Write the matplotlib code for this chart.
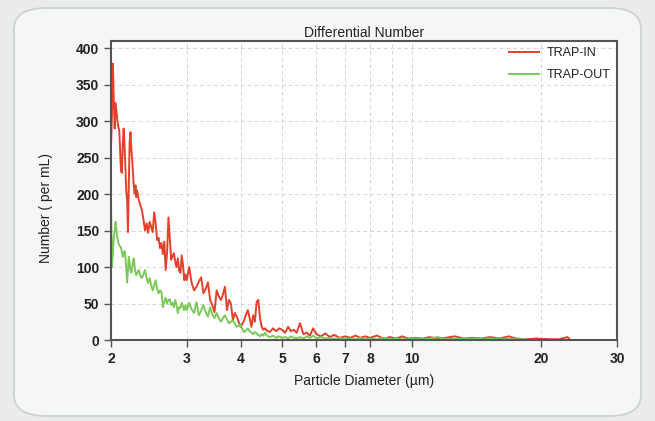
import matplotlib
matplotlib.use("Agg")
import matplotlib.pyplot as plt
from matplotlib.patches import FancyBboxPatch
from matplotlib.ticker import FixedLocator, FixedFormatter, NullFormatter

# particle diameter (um) and counts
trap_in_d = [2.00, 2.01, 2.02, 2.03, 2.04, 2.05, 2.06, 2.07, 2.08, 2.09, 2.10, 2.11, 2.12, 2.13, 2.14,
             2.15, 2.16, 2.17, 2.18, 2.19, 2.20, 2.21, 2.22, 2.23, 2.24, 2.25, 2.26, 2.27, 2.28, 2.29, 2.30,
             2.32, 2.34, 2.36, 2.38, 2.40, 2.42, 2.44, 2.46, 2.48, 2.50, 2.52, 2.54, 2.56, 2.58, 2.60,
             2.62, 2.64, 2.66, 2.68, 2.70, 2.72, 2.74, 2.76, 2.78, 2.80, 2.82, 2.84, 2.86, 2.88, 2.90,
             2.92, 2.94, 2.96, 2.98, 3.00,
             3.04, 3.08, 3.12, 3.16, 3.20, 3.24, 3.28, 3.32, 3.36, 3.40, 3.44, 3.48, 3.52, 3.56, 3.60,
             3.64, 3.68, 3.72, 3.76, 3.80, 3.84, 3.88, 3.92, 3.96, 4.00, 4.04, 4.08, 4.12, 4.16, 4.20,
             4.24, 4.28, 4.32, 4.36, 4.40, 4.44, 4.48, 4.52, 4.56, 4.60,
             4.68, 4.76, 4.84, 4.92, 5.00, 5.08, 5.16, 5.24, 5.32, 5.40,
             5.50, 5.60, 5.70, 5.80, 5.90, 6.00, 6.15, 6.30, 6.45, 6.60, 6.80, 7.00, 7.20, 7.40, 7.60,
             7.80, 8.00, 8.30, 8.60, 8.90, 9.20, 9.50, 9.80, 10.2, 10.6, 11.0, 11.5, 12.0, 12.6, 13.2,
             13.8, 14.5, 15.2, 16.0, 16.8, 17.5, 18.3, 19.5, 21.0, 22.0, 23.0, 23.3]
trap_in = [264, 310, 379, 330, 290, 325, 312, 300, 292, 288, 260, 232, 229, 270, 290,
           268, 238, 205, 192, 148, 215, 272, 285, 262, 247, 228, 210, 201, 212, 196, 205,
           192, 185, 178, 165, 150, 160, 147, 162, 155, 148, 175, 160, 137, 140, 126,
           133, 118, 135, 96, 120, 168, 140, 110, 115, 119, 108, 100, 112, 95, 92,
           116, 103, 82, 90, 82,
           100, 78, 68, 73, 80, 86, 64, 70, 79, 55, 48, 38, 68, 60, 55,
           62, 73, 41, 55, 50, 27, 37, 32, 25, 18, 22, 27, 35, 41, 30,
           18, 34, 25, 52, 55, 30, 18, 14, 16, 13,
           11, 16, 12, 16, 14, 10, 18, 12, 14, 10,
           23, 8, 10, 6, 16, 8, 5, 9, 4, 7, 3, 5, 3, 6, 3,
           5, 3, 6, 2, 4, 2, 5, 2, 3, 2, 4, 2, 3, 5, 2,
           3, 2, 4, 2, 5, 2, 1, 2, 1, 1, 4, 1]

trap_out_d = [2.00, 2.01, 2.02, 2.03, 2.04, 2.05, 2.06, 2.07, 2.08, 2.09, 2.10, 2.11, 2.12, 2.13, 2.14,
              2.15, 2.16, 2.17, 2.18, 2.19, 2.20, 2.21, 2.22, 2.23, 2.24, 2.25, 2.26, 2.27, 2.28, 2.29, 2.30,
              2.32, 2.34, 2.36, 2.38, 2.40, 2.42, 2.44, 2.46, 2.48, 2.50, 2.52, 2.54, 2.56, 2.58, 2.60,
              2.62, 2.64, 2.66, 2.68, 2.70, 2.72, 2.74, 2.76, 2.78, 2.80, 2.82, 2.84, 2.86, 2.88, 2.90,
              2.92, 2.94, 2.96, 2.98, 3.00,
              3.04, 3.08, 3.12, 3.16, 3.20, 3.24, 3.28, 3.32, 3.36, 3.40, 3.44, 3.48, 3.52, 3.56, 3.60,
              3.64, 3.68, 3.72, 3.76, 3.80, 3.84, 3.88, 3.92, 3.96, 4.00, 4.04, 4.08, 4.12, 4.16, 4.20,
              4.24, 4.28, 4.32, 4.36, 4.40, 4.44, 4.48, 4.52, 4.56, 4.60,
              4.68, 4.76, 4.84, 4.92, 5.00, 5.08, 5.16, 5.24, 5.32, 5.40,
              5.50, 5.60, 5.70, 5.80, 5.90, 6.00, 6.15, 6.30, 6.45, 6.60, 6.80, 7.00, 7.20, 7.40, 7.60,
              7.80, 8.00, 8.30, 8.60, 8.90, 9.20, 9.50, 9.80, 10.2, 10.6, 11.0, 11.5, 12.0, 12.6, 13.2,
              13.8, 14.5, 15.2, 16.0, 16.8, 17.5, 18.3]
trap_out = [192, 100, 118, 140, 150, 162, 150, 140, 133, 130, 128, 127, 120, 114, 116,
            122, 115, 96, 79, 95, 114, 104, 95, 92, 100, 108, 112, 100, 92, 89, 92,
            96, 88, 85, 90, 96, 85, 78, 85, 75, 68, 75, 82, 70, 64, 68,
            66, 45, 52, 58, 50, 55, 56, 48, 51, 45, 55, 48, 37, 45, 44,
            51, 46, 41, 48, 41,
            51, 42, 37, 52, 34, 40, 48, 38, 32, 45, 35, 30, 37, 30, 25,
            30, 34, 28, 23, 25, 27, 22, 18, 20, 21, 15, 11, 13, 16, 12,
            10, 8, 11, 9, 7, 5, 8, 6, 10, 6,
            4, 6, 3, 5, 3, 4, 2, 5, 3, 2,
            4, 2, 5, 3, 6, 2, 4, 2, 3, 1, 3, 1, 2, 1, 3,
            1, 2, 1, 3, 1, 2, 1, 1, 2, 1, 2, 4, 1, 2, 1,
            2, 1, 2, 1, 2, 1, 1]

x_ticks = [2, 3, 4, 5, 6, 7, 8, 10, 20, 30]

plt.rcParams['font.family'] = ['Liberation Sans', 'DejaVu Sans']

fig = plt.figure(figsize=(6.55, 4.21), dpi=100)
fig.patch.set_facecolor('#e9ebec')

# rounded panel behind the chart
panel = FancyBboxPatch((14 / 655, 1 - 416 / 421), 627 / 655, 408 / 421,
                       boxstyle="round,pad=0,rounding_size=0.05",
                       transform=fig.transFigure, facecolor='#f5f6f6',
                       edgecolor='#cfd2d3', linewidth=1.3, zorder=-10)
fig.patches.append(panel)

ax = fig.add_axes([111 / 655, 1 - 340 / 421, 506 / 655, 299 / 421])
ax.set_zorder(5)
ax.set_facecolor('white')

ax.plot(trap_in_d, trap_in, color='#e5402c', lw=1.4, label='TRAP-IN')
ax.plot(trap_out_d, trap_out, color='#7cc95a', lw=1.4, label='TRAP-OUT')

ax.set_xscale('log')
ax.set_xlim(2, 30)
ax.set_ylim(0, 410)
ax.xaxis.set_major_locator(FixedLocator(x_ticks))
ax.xaxis.set_minor_locator(FixedLocator([9]))
ax.xaxis.set_major_formatter(FixedFormatter([str(t) for t in x_ticks]))
ax.xaxis.set_minor_formatter(NullFormatter())
ax.set_yticks(range(0, 401, 50))

ax.grid(True, which='both', axis='x', color='#d6d6d6', linestyle=(0, (4, 3)), lw=0.7)
ax.grid(True, which='major', axis='y', color='#d6d6d6', linestyle=(0, (4, 3)), lw=0.7)
ax.set_axisbelow(True)

for s in ax.spines.values():
    s.set_color('#555555')
    s.set_linewidth(1.5)

ax.tick_params(axis='both', which='major', length=5, width=1, color='#555555',
               labelsize=10, labelcolor='#222222')
ax.tick_params(axis='x', which='minor', length=0)
for lbl in ax.get_xticklabels() + ax.get_yticklabels():
    lbl.set_fontweight('bold')

ax.set_title('Differential Number', fontsize=10, color='#222222', pad=3)
ax.set_xlabel('Particle Diameter (µm)', fontsize=10, color='#222222', labelpad=6)
ax.set_ylabel('Number ( per mL)', fontsize=10, color='#222222')
ax.yaxis.set_label_coords(-0.115, 0.44)

leg = ax.legend(loc='upper right', frameon=False, fontsize=9, handlelength=2.4,
                borderaxespad=0.1, labelspacing=0.8, handletextpad=0.6)
for t in leg.get_texts():
    t.set_color('#222222')

fig.savefig('out.png', dpi=100, facecolor=fig.get_facecolor())
